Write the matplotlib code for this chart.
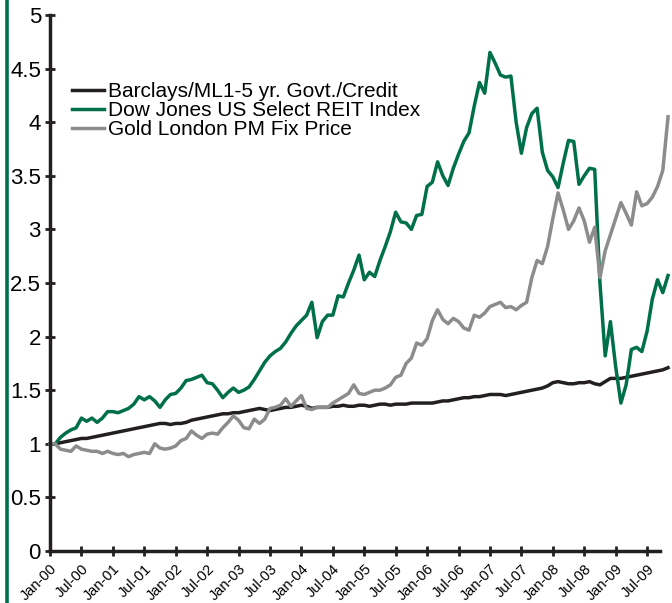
import matplotlib
matplotlib.use("Agg")
import matplotlib.pyplot as plt
from matplotlib.lines import Line2D
import numpy as np

plt.rcParams['font.family'] = ['Liberation Sans', 'DejaVu Sans']

# monthly index values, Jan-00 .. Nov-09 (start = 1)
barclays = [1.00, 1.00, 1.01, 1.02, 1.03, 1.04, 1.05, 1.05, 1.06, 1.07, 1.08, 1.09,
            1.10, 1.11, 1.12, 1.13, 1.14, 1.15, 1.16, 1.17, 1.18, 1.19, 1.19, 1.18,
            1.19, 1.19, 1.20, 1.22, 1.23, 1.24, 1.25, 1.26, 1.27, 1.28, 1.28, 1.29,
            1.29, 1.30, 1.31, 1.32, 1.33, 1.32, 1.31, 1.32, 1.33, 1.34, 1.34, 1.35,
            1.36, 1.35, 1.33, 1.34, 1.34, 1.34, 1.35, 1.35, 1.36, 1.35, 1.35, 1.36,
            1.36, 1.35, 1.36, 1.37, 1.37, 1.36, 1.37, 1.37, 1.37, 1.38, 1.38, 1.38,
            1.38, 1.38, 1.39, 1.40, 1.40, 1.41, 1.42, 1.43, 1.43, 1.44, 1.44, 1.45,
            1.46, 1.46, 1.46, 1.45, 1.46, 1.47, 1.48, 1.49, 1.50, 1.51, 1.52, 1.54,
            1.57, 1.58, 1.57, 1.56, 1.56, 1.57, 1.57, 1.58, 1.56, 1.55, 1.58, 1.61,
            1.61, 1.61, 1.62, 1.63, 1.64, 1.65, 1.66, 1.67, 1.68, 1.69, 1.71]

reit = [1.00, 1.00, 1.06, 1.10, 1.13, 1.15, 1.24, 1.21, 1.24, 1.20, 1.24, 1.30,
        1.30, 1.29, 1.31, 1.33, 1.37, 1.44, 1.41, 1.44, 1.40, 1.34, 1.41, 1.46,
        1.47, 1.52, 1.59, 1.60, 1.62, 1.64, 1.57, 1.56, 1.50, 1.43, 1.48, 1.52,
        1.48, 1.50, 1.53, 1.60, 1.68, 1.76, 1.82, 1.86, 1.89, 1.95, 2.03, 2.10,
        2.15, 2.20, 2.32, 1.99, 2.14, 2.20, 2.20, 2.38, 2.37, 2.50, 2.62, 2.76,
        2.53, 2.60, 2.56, 2.71, 2.84, 2.98, 3.16, 3.07, 3.06, 3.00, 3.13, 3.14,
        3.40, 3.44, 3.63, 3.50, 3.41, 3.57, 3.70, 3.82, 3.90, 4.15, 4.37, 4.27,
        4.65, 4.55, 4.44, 4.42, 4.43, 4.00, 3.71, 3.95, 4.08, 4.13, 3.72, 3.55,
        3.49, 3.39, 3.62, 3.83, 3.82, 3.42, 3.50, 3.57, 3.56, 2.50, 1.82, 2.14,
        1.72, 1.38, 1.55, 1.88, 1.90, 1.86, 2.05, 2.35, 2.53, 2.41, 2.57]

gold = [1.00, 1.00, 0.95, 0.94, 0.93, 0.98, 0.95, 0.94, 0.93, 0.93, 0.91, 0.93,
        0.91, 0.90, 0.91, 0.88, 0.90, 0.91, 0.92, 0.91, 1.00, 0.96, 0.95, 0.96,
        0.98, 1.03, 1.05, 1.12, 1.08, 1.05, 1.09, 1.10, 1.09, 1.15, 1.20, 1.26,
        1.22, 1.15, 1.14, 1.23, 1.19, 1.23, 1.33, 1.34, 1.36, 1.42, 1.35, 1.40,
        1.45, 1.33, 1.32, 1.34, 1.34, 1.34, 1.38, 1.41, 1.44, 1.47, 1.55, 1.47,
        1.46, 1.48, 1.50, 1.50, 1.52, 1.55, 1.62, 1.64, 1.75, 1.80, 1.94, 1.92,
        1.98, 2.15, 2.25, 2.16, 2.12, 2.17, 2.14, 2.08, 2.06, 2.20, 2.18, 2.22,
        2.28, 2.30, 2.32, 2.27, 2.28, 2.25, 2.29, 2.32, 2.55, 2.71, 2.68, 2.84,
        3.10, 3.34, 3.18, 3.00, 3.08, 3.20, 3.08, 2.88, 3.02, 2.55, 2.80, 2.95,
        3.10, 3.25, 3.15, 3.04, 3.35, 3.22, 3.24, 3.30, 3.40, 3.55, 4.05]

years = ['00', '01', '02', '03', '04', '05', '06', '07', '08', '09']
tick_labels = [m + '-' + y for y in years for m in ['Jan', 'Jul']]

green = '#00704a'
months = np.arange(len(reit))

fig = plt.figure(figsize=(6.72, 6.03), dpi=100)
ax = fig.add_axes([0.0744, 0.0862, 0.908, 0.889])

ax.plot(months, barclays, color='#231f20', lw=2.5, label='Barclays/ML1-5 yr. Govt./Credit', clip_on=False)
ax.plot(months, reit, color=green, lw=2.5, label='Dow Jones US Select REIT Index', clip_on=False)
ax.plot(months, gold, color='#8c8c8c', lw=2.5, label='Gold London PM Fix Price', clip_on=False)

ax.set_xlim(0, 116.5)
ax.set_ylim(0, 5)
ax.set_yticks(np.arange(0, 5.01, 0.5))
ax.set_yticklabels(['%g' % v for v in np.arange(0, 5.01, 0.5)], fontsize=16)
ax.set_xticks(np.arange(0, 120, 6))
ax.set_xticklabels(tick_labels, rotation=45, ha='right', rotation_mode='anchor', fontsize=10.5)

for s in ['top', 'right']:
    ax.spines[s].set_visible(False)
for s in ['left', 'bottom']:
    ax.spines[s].set_linewidth(2.5)
    ax.spines[s].set_color('#231f20')
ax.tick_params(direction='inout', length=7, width=2, color='#231f20', pad=3)
ax.tick_params(axis='x', pad=4)

ax.legend(loc='upper left', bbox_to_anchor=(0.023, 0.89), frameon=False, fontsize=15,
          handlelength=1.5, handletextpad=0.2, labelspacing=0.0, borderaxespad=0)

# green border on the left edge
fig.add_artist(Line2D([0.0097, 0.0097], [0, 1], transform=fig.transFigure, color=green, lw=2.6))

fig.savefig('out.png', dpi=100)
